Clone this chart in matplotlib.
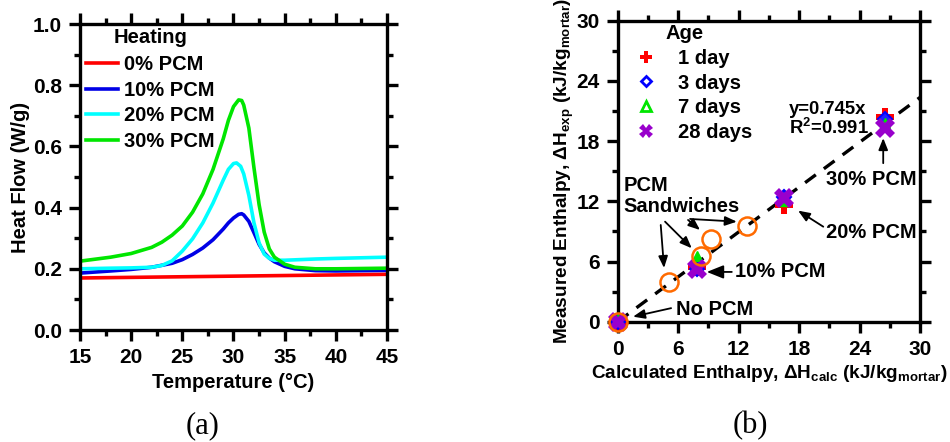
import matplotlib
matplotlib.use("Agg")
import matplotlib.pyplot as plt
from matplotlib.lines import Line2D
import numpy as np

plt.rcParams['font.family'] = ['Liberation Sans', 'DejaVu Sans']
plt.rcParams['font.weight'] = 'bold'
plt.rcParams['mathtext.fontset'] = 'custom'
plt.rcParams['mathtext.rm'] = 'Liberation Sans:bold'
plt.rcParams['mathtext.bf'] = 'Liberation Sans:bold'
plt.rcParams['mathtext.default'] = 'bf'

FS = 14.5
TFS = 15
LFS_B = 13.7

# ---------------- Panel (a) data ----------------
temp_0 = [15, 45]
flow_0 = [0.170, 0.182]

temp_10 = [15, 18, 20, 22, 24, 25, 26, 27, 28, 29, 29.5, 30, 30.5, 30.8, 31, 31.5, 32, 32.5, 33, 33.5, 34, 35, 36, 38, 40, 45]
flow_10 = [0.186, 0.193, 0.198, 0.205, 0.218, 0.230, 0.247, 0.268, 0.295, 0.330, 0.350, 0.366, 0.378, 0.380, 0.376, 0.355, 0.318, 0.280, 0.252, 0.235, 0.223, 0.208, 0.200, 0.194, 0.193, 0.195]

temp_20 = [15, 18, 20, 22, 23, 24, 25, 26, 27, 28, 29, 29.5, 30, 30.3, 30.7, 31, 31.5, 32, 32.5, 33, 33.5, 34, 35, 38, 40, 45]
flow_20 = [0.200, 0.202, 0.203, 0.205, 0.211, 0.226, 0.258, 0.298, 0.350, 0.415, 0.490, 0.525, 0.544, 0.546, 0.535, 0.510, 0.440, 0.350, 0.285, 0.248, 0.234, 0.228, 0.228, 0.232, 0.234, 0.238]

temp_30 = [15, 18, 20, 22, 23, 24, 25, 26, 27, 28, 29, 29.5, 30, 30.5, 30.8, 31, 31.5, 32, 32.5, 33, 33.5, 34, 35, 36, 38, 40, 45]
flow_30 = [0.225, 0.238, 0.250, 0.270, 0.287, 0.310, 0.340, 0.385, 0.445, 0.525, 0.625, 0.685, 0.730, 0.752, 0.750, 0.735, 0.660, 0.530, 0.410, 0.320, 0.265, 0.238, 0.215, 0.205, 0.200, 0.200, 0.202]

# ---------------- Panel (b) data ----------------
day1_x = [0, 7.9, 16.5, 26.5]
day1_y = [0, 5.5, 11.6, 20.4]
day3_x = [0, 7.9, 16.5, 26.5]
day3_y = [0, 5.3, 12.4, 20.2]
day7_x = [0, 7.9, 16.5, 26.5]
day7_y = [0.3, 6.5, 12.0, 19.8]
day28_x = [0, 7.9, 16.5, 26.5]
day28_y = [0, 5.3, 12.3, 19.3]
sand_x = [0, 5.1, 8.3, 9.3, 12.8]
sand_y = [0, 3.95, 6.5, 8.2, 9.55]
fit_slope = 0.745
fit_x = [0, 30]

fig = plt.figure(figsize=(9.5, 4.42), dpi=100)

def style_axes(ax):
    for s in ax.spines.values():
        s.set_linewidth(2.4)
    ax.tick_params(which='both', direction='out', top=True, right=True, width=2.4,
                   labelsize=TFS)
    ax.tick_params(which='major', length=8, pad=5)
    ax.tick_params(which='minor', length=4.5)
    for lab in ax.get_xticklabels() + ax.get_yticklabels():
        lab.set_fontweight('bold')

# ---------- (a) ----------
axa = fig.add_axes([80/950, 1-330/442, (387-80)/950, (330-24)/442])
lines = [
    (temp_0, flow_0, '#ff0000', '0% PCM'),
    (temp_10, flow_10, '#0000e6', '10% PCM'),
    (temp_20, flow_20, '#00ffff', '20% PCM'),
    (temp_30, flow_30, '#00e600', '30% PCM'),
]
for t, f, c, lab in lines:
    axa.plot(t, f, color=c, lw=2.6, label=lab)
axa.set_xlim(15, 45)
axa.set_ylim(0, 1.0)
axa.set_xticks(np.arange(15, 46, 5))
axa.set_xticks(np.arange(17.5, 45, 5), minor=True)
axa.set_yticks(np.arange(0, 1.01, 0.2))
axa.set_yticks(np.arange(0.1, 1.0, 0.2), minor=True)
axa.yaxis.set_major_formatter(matplotlib.ticker.FormatStrFormatter('%.1f'))
style_axes(axa)
axa.set_xlabel('Temperature (°C)', fontsize=FS, fontweight='bold', labelpad=4)
axa.set_ylabel('Heat Flow (W/g)', fontsize=FS, fontweight='bold', labelpad=2)
axa.text(0.11, 0.957, 'Heating', transform=axa.transAxes, fontsize=FS,
         fontweight='bold', ha='left', va='center')
axa.legend(loc='upper left', bbox_to_anchor=(0.013, 0.905), frameon=False,
           handlelength=1.6, handletextpad=0.3, labelspacing=0.33,
           borderaxespad=0, borderpad=0.1,
           prop={'weight': 'bold', 'size': FS})

# ---------- (b) ----------
axb = fig.add_axes([617.7/950, 1-321.7/442, (920-617.7)/950, (321.7-20.7)/442])
axb.plot(fit_x, [fit_slope*v for v in fit_x], color='black', lw=2.4,
         ls=(0, (4, 3)), zorder=2)
axb.plot(day1_x, day1_y, ls='none', marker='P', ms=13, color='#ff0000', mew=0, zorder=4, clip_on=False)
axb.plot(day3_x, day3_y, ls='none', marker='D', ms=7, mfc='#2020ff', mec='#0000ff', mew=1.5, zorder=5, clip_on=False)
axb.plot(day7_x, day7_y, ls='none', marker='^', ms=7, color='#00e600', zorder=6, clip_on=False)
axb.plot(day28_x, day28_y, ls='none', marker='X', ms=14, color='#9900cc', mew=0, zorder=7, clip_on=False)
axb.plot(sand_x, sand_y, ls='none', marker='o', ms=13, mfc='none',
         mec='#ff6a00', mew=1.8, zorder=8, clip_on=False)
axb.set_xlim(0, 30)
axb.set_ylim(0, 30)
axb.set_xticks(np.arange(0, 31, 6))
axb.set_xticks(np.arange(3, 30, 6), minor=True)
axb.set_yticks(np.arange(0, 31, 6))
axb.set_yticks(np.arange(3, 30, 6), minor=True)
style_axes(axb)
axb.set_xlabel(r'Calculated Enthalpy, $\Delta$H$_{calc}$ (kJ/kg$_{mortar}$)',
               fontsize=LFS_B, fontweight='bold', labelpad=3)
axb.set_ylabel(r'Measured Enthalpy, $\Delta$H$_{exp}$ (kJ/kg$_{mortar}$)',
               fontsize=LFS_B, fontweight='bold', labelpad=0)

# legend
handles = [
    Line2D([], [], ls='none', marker='P', ms=9, color='#ff0000', mew=0),
    Line2D([], [], ls='none', marker='D', ms=5.5, mfc='white', mec='#0000ff', mew=2),
    Line2D([], [], ls='none', marker='^', ms=6.5, mfc='white', mec='#00e600', mew=2),
    Line2D([], [], ls='none', marker='X', ms=9.5, color='#9900cc', mew=0),
]
labels = ['1 day', '3 days', '7 days', '28 days']
axb.text(4.7, 28.7, 'Age', fontsize=FS, fontweight='bold', ha='left', va='center')
axb.legend(handles, labels, loc='upper left', bbox_to_anchor=(0.055, 0.913),
           frameon=False, handlelength=1.0, handletextpad=1.05, labelspacing=0.28,
           borderaxespad=0, borderpad=0.1, prop={'weight': 'bold', 'size': FS})

arrowkw = dict(arrowstyle='-|>,head_length=0.7,head_width=0.28', color='black', lw=1.3,
               shrinkA=0, shrinkB=0)
axb.text(0.6, 14.5, 'PCM\nSandwiches', fontsize=FS, fontweight='bold', ha='left',
         va='top', linespacing=1.1)
for (x0, y0, x1, y1) in [(4.27, 9.64, 4.6, 5.35), (4.7, 9.97, 7.35, 7.32),
                         (6.98, 10.14, 8.17, 9.14), (7.18, 10.24, 11.82, 9.97)]:
    axb.annotate('', xy=(x1, y1), xytext=(x0, y0), arrowprops=arrowkw)

axb.annotate('10% PCM', xy=(8.84, 4.96), xytext=(11.6, 4.96), fontsize=FS,
             fontweight='bold', ha='left', va='center', arrowprops=arrowkw)
axb.annotate('', xy=(1.52, 0.5), xytext=(5.3, 1.35), arrowprops=arrowkw)
axb.text(5.8, 1.25, 'No PCM', fontsize=FS, fontweight='bold', ha='left', va='center')
axb.annotate('', xy=(17.9, 11.07), xytext=(20.4, 9.47), arrowprops=arrowkw)
axb.text(20.7, 8.94, '20% PCM', fontsize=FS, fontweight='bold', ha='left', va='center')
axb.annotate('', xy=(26.35, 18.3), xytext=(26.35, 15.8), arrowprops=arrowkw)
axb.text(20.7, 14.13, '30% PCM', fontsize=FS, fontweight='bold', ha='left', va='center')
axb.text(17.0, 21.1, 'y=0.745x', fontsize=13.3, fontweight='bold', ha='left', va='center')
axb.text(17.0, 19.3, r'R$^{2}$=0.991', fontsize=13.3, fontweight='bold', ha='left', va='center')

fig.text(203/950, 1-426/442, '(a)', fontsize=22, family='Liberation Serif',
         fontweight='normal', ha='center', va='center')
fig.text(750/950, 1-426/442, '(b)', fontsize=22, family='Liberation Serif',
         fontweight='normal', ha='center', va='center')

fig.savefig('out.png', dpi=100)
